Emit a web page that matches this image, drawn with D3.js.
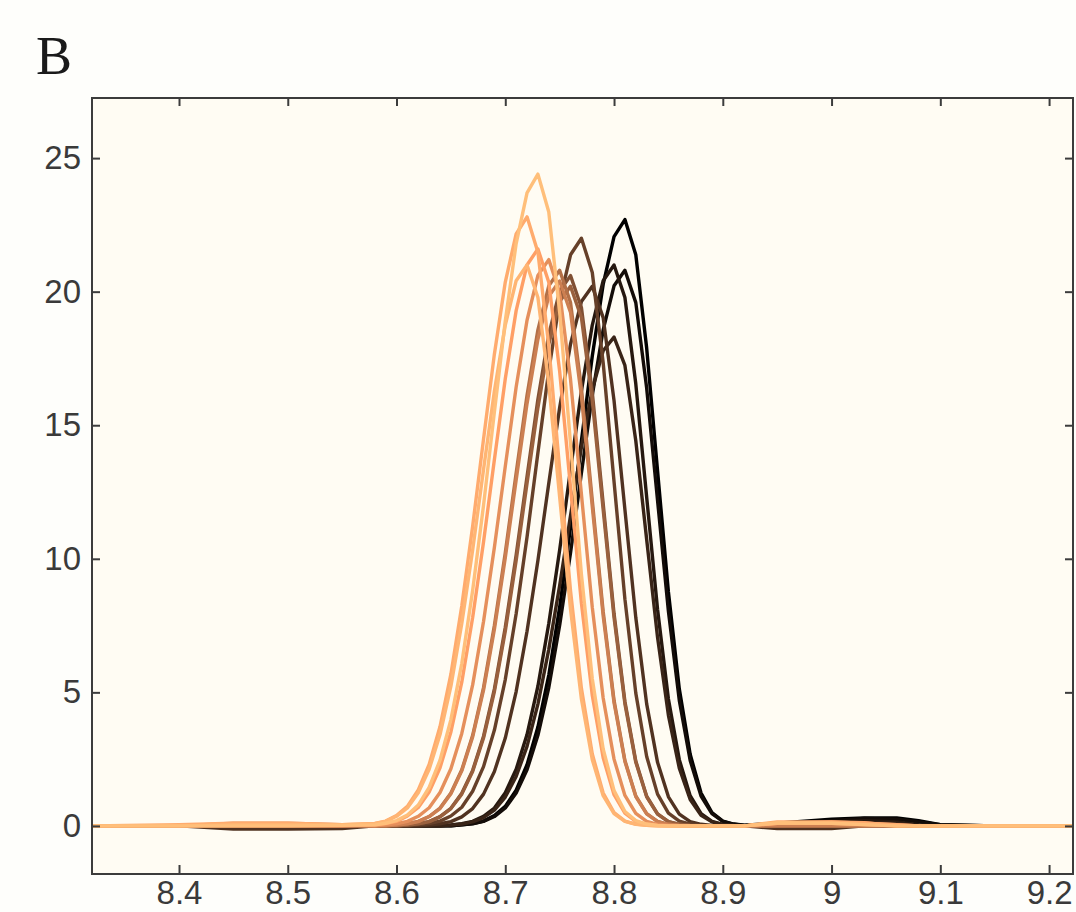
<!DOCTYPE html>
<html>
<head>
<meta charset="utf-8">
<script src="https://cdn.jsdelivr.net/npm/d3@7"></script>
<style>
  html, body { margin: 0; padding: 0; background: #fefefb; }
  svg { display: block; }
</style>
</head>
<body>
<svg id="chart" width="1076" height="912"></svg>
<script>
// ---------- data ----------
const panelLabel = "B";
const xTickValues = [8.4, 8.5, 8.6, 8.7, 8.8, 8.9, 9.0, 9.1, 9.2];
const xTickLabels = ["8.4", "8.5", "8.6", "8.7", "8.8", "8.9", "9", "9.1", "9.2"];
const yTickValues = [0, 5, 10, 15, 20, 25];
const yTickLabels = ["0", "5", "10", "15", "20", "25"];

const xGrid = [8.32, 8.40, 8.45, 8.50, 8.55,
  8.58, 8.59, 8.60, 8.61, 8.62, 8.63, 8.64, 8.65, 8.66, 8.67, 8.68, 8.69, 8.70, 8.71, 8.72,
  8.73, 8.74, 8.75, 8.76, 8.77, 8.78, 8.79, 8.80, 8.81, 8.82, 8.83, 8.84, 8.85, 8.86, 8.87,
  8.88, 8.89, 8.90, 8.91, 8.92,
  8.95, 9.00, 9.03, 9.06, 9.08, 9.10, 9.15, 9.222];

const curve01 = [0,0,0,0,0, 0,0,0,0,0,0,0,0,0.04,0.09,0.18,0.39,0.73,1.34,2.29,3.70,5.65,8.19,11.17,14.41,17.59,20.27,22.06,22.7,21.38,17.89,13.30,8.76,5.13,2.68,1.23,0.50,0.18,0.07,0.03, 0.1,0.25,0.3,0.3,0.2,0.05,0,0];
const curve02 = [0,0,0,0,0, 0,0,0,0,0,0,0,0,0.04,0.08,0.17,0.35,0.67,1.23,2.10,3.39,5.18,7.51,10.23,13.21,16.12,18.57,20.22,20.8,19.59,16.39,12.19,8.03,4.70,2.45,1.12,0.46,0.17,0.06,0.02, 0.08,0.2,0.28,0.25,0.15,0.05,0,0];
const curve03 = [0,0,0,0,0, 0,0,0,0,0,0,0,0.04,0.08,0.17,0.36,0.67,1.24,2.12,3.42,5.23,7.58,10.33,13.34,16.28,18.75,20.41,21.0,19.78,16.55,12.31,8.11,4.75,2.48,1.13,0.46,0.17,0.06,0.02,0, 0.05,0.15,0.2,0.15,0.05,0,0,0];
const curve04 = [0,0,0,0,0, 0,0,0,0,0,0,0,0.03,0.07,0.15,0.31,0.59,1.08,1.85,2.98,4.56,6.61,9.00,11.62,14.18,16.34,17.79,18.3,17.24,14.42,10.72,7.06,4.14,2.16,0.99,0.40,0.15,0.05,0.02,0, 0,0.1,0.12,0.1,0,0,0,0];
const curve05 = [0,0,-0.12,-0.12,-0.1, 0,0,0,0,0,0.03,0.08,0.16,0.34,0.65,1.19,2.04,3.29,5.03,7.29,9.94,12.83,15.66,18.04,19.63,20.2,19.03,15.92,11.84,7.80,4.57,2.38,1.09,0.44,0.16,0.06,0.02,0,0,0, -0.1,-0.1,0,0,0,0,0,0];
const curve06 = [0,0,0,0,0, 0,0,0,0,0.04,0.09,0.18,0.37,0.70,1.30,2.22,3.59,5.48,7.94,10.82,13.97,17.05,19.65,21.38,22.0,20.72,17.34,12.89,8.49,4.97,2.60,1.19,0.48,0.18,0.07,0.02,0,0,0,0, 0,0,0,0,0,0,0,0];
const curve07 = [0,0,0,0,0, 0,0,0,0.04,0.08,0.16,0.35,0.66,1.22,2.08,3.36,5.13,7.44,10.14,13.08,15.97,18.40,20.02,20.6,19.41,16.23,12.07,7.95,4.66,2.43,1.11,0.45,0.16,0.06,0.02,0,0,0,0,0, 0,0.05,0.05,0,0,0,0,0];
const curve08 = [0,0,0,0,0, 0,0,0,0.03,0.08,0.16,0.34,0.65,1.19,2.04,3.29,5.03,7.29,9.94,12.83,15.66,18.04,19.63,20.2,19.03,15.92,11.84,7.80,4.57,2.38,1.09,0.44,0.16,0.06,0.02,0,0,0,0,0, 0,0,0,0,0,0,0,0];
const curve09 = [0,0,0.05,0.05,0, 0,0,0.04,0.08,0.17,0.35,0.67,1.23,2.10,3.39,5.18,7.51,10.23,13.21,16.12,18.57,20.22,20.8,19.59,16.39,12.19,8.03,4.70,2.45,1.12,0.46,0.17,0.06,0.02,0,0,0,0,0,0, 0,0,0,0,0,0,0,0];
const curve10 = [0,0,0,0,0, 0,0,0.03,0.08,0.16,0.35,0.65,1.20,2.06,3.33,5.08,7.36,10.04,12.95,15.81,18.22,19.83,20.4,19.22,16.08,11.95,7.87,4.61,2.41,1.10,0.45,0.16,0.06,0.02,0,0,0,0,0,0, 0,0,0,0,0,0,0,0];
const curve11 = [0,0,0.1,0.1,0.05, 0,0.04,0.08,0.17,0.36,0.68,1.25,2.14,3.46,5.28,7.65,10.43,13.46,16.43,18.93,20.61,21.2,19.97,16.71,12.42,8.18,4.79,2.50,1.14,0.47,0.17,0.06,0.02,0,0,0,0,0,0,0, 0.1,0.1,0.1,0.05,0,0,0,0];
const curve12 = [0,0,0,0,0, 0.04,0.09,0.17,0.37,0.69,1.27,2.18,3.52,5.38,7.80,10.63,13.72,16.74,19.29,21.0,21.6,20.35,17.02,12.66,8.34,4.88,2.55,1.17,0.48,0.17,0.06,0.02,0,0,0,0,0,0,0,0, 0.1,0.15,0.12,0,0,0,0,0];
const curve13 = [0,0.05,0.1,0.1,0.05, 0.09,0.18,0.39,0.73,1.35,2.30,3.72,5.68,8.23,11.22,14.48,17.67,20.36,22.16,22.8,21.48,17.97,13.36,8.80,5.15,2.69,1.23,0.50,0.18,0.07,0.02,0,0,0,0,0,0,0,0,0, 0.15,0.15,0.1,0.05,0,0,0,0];
const curve14 = [0,0,0.05,0.05,0.05, 0.08,0.17,0.36,0.67,1.24,2.12,3.42,5.23,7.58,10.33,13.34,16.28,18.75,20.41,21.0,19.78,16.55,12.31,8.11,4.75,2.48,1.13,0.46,0.17,0.06,0.02,0,0,0,0,0,0,0,0,0, 0.1,0.1,0.05,0,0,0,0,0];
const curve15 = [0,0,0,0,0.02, 0.04,0.1,0.2,0.41,0.78,1.44,2.46,3.98,6.08,8.81,12.0,15.5,18.9,21.8,23.7,24.4,22.98,19.23,14.30,9.42,5.51,2.88,1.32,0.54,0.20,0.07,0.02,0,0,0,0,0,0,0,0, 0.12,0.1,0.05,0,0,0,0,0];

const curves = [curve01, curve02, curve03, curve04, curve05, curve06, curve07, curve08,
                curve09, curve10, curve11, curve12, curve13, curve14, curve15];
// position of each curve along the copper colour map (0 = black, 1 = light copper)
const copperLevels = [0.00, 0.06, 0.12, 0.18, 0.25, 0.32, 0.40, 0.48, 0.56, 0.64, 0.72, 0.80, 0.86, 0.91, 0.96];

// ---------- layout ----------
const svg = d3.select("#chart");
const plotL = 92, plotR = 1073, plotT = 98, plotB = 874;

const xScale = d3.scaleLinear().domain([8.32, 9.222]).range([plotL, plotR]);
const yScale = d3.scaleLinear().domain([-1.8, 27.25]).range([plotB, plotT]);

function copper(t) {
  const r = Math.min(1, 1.25 * t), g = 0.7812 * t, b = 0.4975 * t;
  return d3.rgb(r * 255, g * 255, b * 255).toString();
}

// plot background
svg.append("rect").attr("x", plotL).attr("y", plotT)
  .attr("width", plotR - plotL).attr("height", plotB - plotT)
  .attr("fill", "#fffcf3");

svg.append("clipPath").attr("id", "plotclip")
  .append("rect").attr("x", plotL).attr("y", plotT)
  .attr("width", plotR - plotL).attr("height", plotB - plotT);

const lineGen = d3.line()
  .x((d, i) => xScale(xGrid[i]))
  .y(d => yScale(d));

const gLines = svg.append("g").attr("clip-path", "url(#plotclip)");
curves.forEach((c, i) => {
  gLines.append("path")
    .datum(c)
    .attr("d", lineGen)
    .attr("fill", "none")
    .attr("stroke", copper(copperLevels[i]))
    .attr("stroke-width", 3.4)
    .attr("stroke-linejoin", "round");
});

// axes
const axisColor = "#3c3c3c";
const fontFam = "'Liberation Sans', Arial, Helvetica, sans-serif";

const xAxisB = d3.axisBottom(xScale).tickValues(xTickValues)
  .tickFormat((d, i) => xTickLabels[i]).tickSizeInner(-9).tickSizeOuter(0).tickPadding(7);
const xAxisT = d3.axisTop(xScale).tickValues(xTickValues)
  .tickFormat("").tickSizeInner(-8).tickSizeOuter(0);
const yAxisL = d3.axisLeft(yScale).tickValues(yTickValues)
  .tickFormat((d, i) => yTickLabels[i]).tickSizeInner(-8).tickSizeOuter(0).tickPadding(11);
const yAxisR = d3.axisRight(yScale).tickValues(yTickValues)
  .tickFormat("").tickSizeInner(-8).tickSizeOuter(0);

function styleAxis(sel) {
  sel.select(".domain").remove();
  sel.selectAll(".tick line").attr("stroke", axisColor).attr("stroke-width", 2);
  sel.selectAll(".tick text").attr("fill", "#3a3a3a")
    .style("font-family", fontFam).style("font-size", "33px");
}

svg.append("g").attr("transform", `translate(0,${plotB})`).call(xAxisB).call(styleAxis);
svg.append("g").attr("transform", `translate(0,${plotT})`).call(xAxisT).call(styleAxis);
svg.append("g").attr("transform", `translate(${plotL},0)`).call(yAxisL).call(styleAxis);
svg.append("g").attr("transform", `translate(${plotR},0)`).call(yAxisR).call(styleAxis);

// box
svg.append("rect").attr("x", plotL).attr("y", plotT)
  .attr("width", plotR - plotL).attr("height", plotB - plotT)
  .attr("fill", "none").attr("stroke", axisColor).attr("stroke-width", 2);

// panel label
svg.append("text").attr("x", 36).attr("y", 74)
  .text(panelLabel)
  .style("font-family", "'Liberation Serif', 'Times New Roman', serif")
  .style("font-size", "54px")
  .attr("fill", "#1a1a1a");
</script>
</body>
</html>
